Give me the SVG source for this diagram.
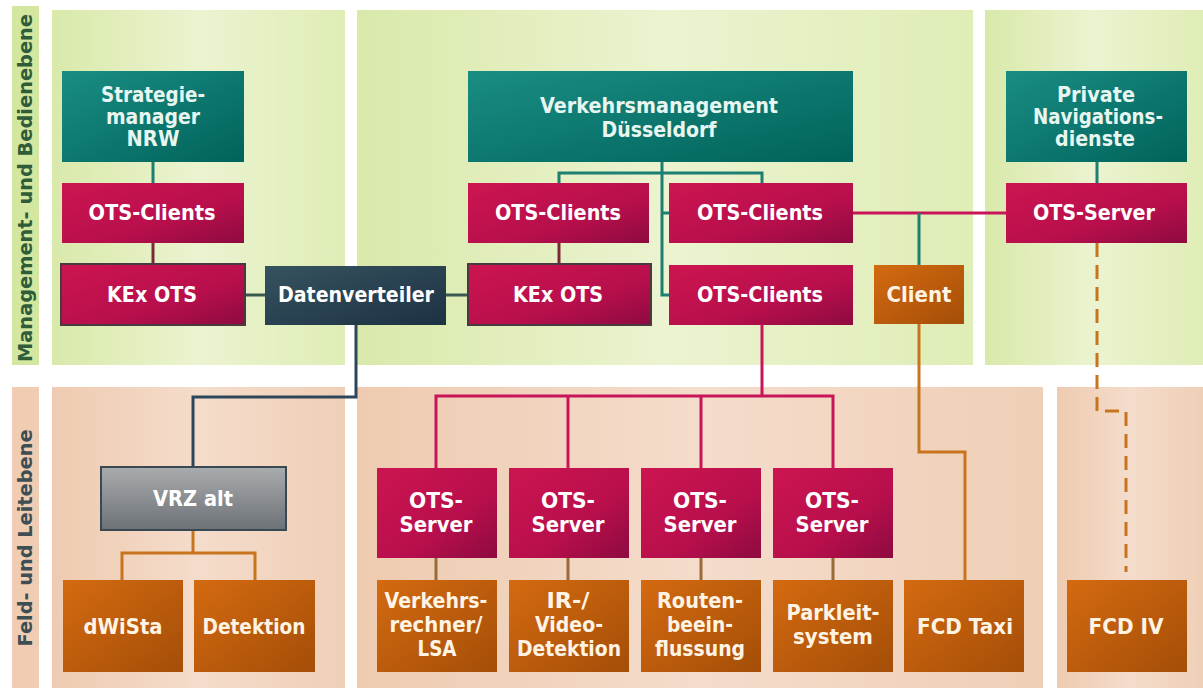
<svg xmlns="http://www.w3.org/2000/svg" width="1203" height="691" viewBox="0 0 1203 691">
<defs>
<linearGradient id="gTeal" x1="0" y1="0" x2="1" y2="1"><stop offset="0" stop-color="#1a8d83"/><stop offset="1" stop-color="#00635b"/></linearGradient>
<linearGradient id="gMag" x1="0" y1="0" x2="1" y2="1"><stop offset="0" stop-color="#cc1550"/><stop offset="0.6" stop-color="#b80f4c"/><stop offset="1" stop-color="#8e0a40"/></linearGradient>
<linearGradient id="gOr" x1="0" y1="0" x2="1" y2="1"><stop offset="0" stop-color="#d46a10"/><stop offset="1" stop-color="#a44e08"/></linearGradient>
<linearGradient id="gSlate" x1="0" y1="0" x2="1" y2="1"><stop offset="0" stop-color="#36525f"/><stop offset="1" stop-color="#1d3243"/></linearGradient>
<linearGradient id="gGray" x1="0" y1="0" x2="0" y2="1"><stop offset="0" stop-color="#a9acae"/><stop offset="1" stop-color="#6c7176"/></linearGradient>
<linearGradient id="gTop" x1="0" y1="0" x2="1" y2="0"><stop offset="0" stop-color="#d9e9aa"/><stop offset="0.5" stop-color="#ebf3d0"/><stop offset="1" stop-color="#dfedb6"/></linearGradient>
<linearGradient id="gBot" x1="0" y1="0" x2="1" y2="0"><stop offset="0" stop-color="#eecbb0"/><stop offset="0.5" stop-color="#f4dccb"/><stop offset="1" stop-color="#efcfb6"/></linearGradient>
</defs>
<style>
.t{font-family:"DejaVu Sans","Liberation Sans",sans-serif;font-weight:bold;font-size:21px;text-anchor:middle;fill:#ffffff}
.tt{fill:#e8f6f1}
.to{fill:#fff4e4}
.lbl{font-family:"DejaVu Sans","Liberation Sans",sans-serif;font-weight:bold;font-size:19px;text-anchor:middle}
.teal{fill:url(#gTeal)}
.mag{fill:url(#gMag)}
.or{fill:url(#gOr)}
.c{fill:none;stroke-width:3}
.cT{stroke:#1d7f72}
.cR{stroke:#7a2a36}
.cG{stroke:#3a5a50}
.cS{stroke:#2d4659}
.cM{stroke:#c8155a}
.cO{stroke:#c8741e}
.cB{stroke:#9a6a3a}
</style>
<rect width="1203" height="691" fill="#ffffff"/>
<g id="panels">
<rect x="12" y="6" width="27" height="359" fill="#d4e7a0"/>
<rect x="52" y="10" width="293" height="355" fill="url(#gTop)"/>
<rect x="357" y="10" width="616" height="355" fill="url(#gTop)"/>
<rect x="985" y="10" width="218" height="355" fill="url(#gTop)"/>
<rect x="12" y="387" width="27" height="301" fill="#f0cdb2"/>
<rect x="52" y="387" width="293" height="301" fill="url(#gBot)"/>
<rect x="357" y="387" width="686" height="301" fill="url(#gBot)"/>
<rect x="1057" y="387" width="146" height="301" fill="url(#gBot)"/>
<text class="lbl" transform="translate(32,188) rotate(-90)" fill="#2f5d3a" textLength="348" lengthAdjust="spacingAndGlyphs">Management- und Bedienebene</text>
<text class="lbl" transform="translate(32,538) rotate(-90)" fill="#3d4f55" textLength="217" lengthAdjust="spacingAndGlyphs">Feld- und Leitebene</text>
</g>
<g id="connectors">
<path class="c cT" d="M153,162V183"/>
<path class="c cR" d="M153,243V264"/>
<path class="c cG" d="M245,295H265"/>
<path class="c cG" d="M446,295H468"/>
<path class="c cT" d="M662,162V295H669"/>
<path class="c cT" d="M559,183V173H762V183"/>
<path class="c cT" d="M662,213H669"/>
<path class="c cR" d="M559,243V264"/>
<path class="c cT" d="M1097,162V183"/>
<path class="c cM" d="M853,213H1006"/>
<path class="c cT" d="M919,213V265"/>
<path class="c cS" d="M356,325V397H193V467"/>
<path class="c cM" d="M762,325V396"/>
<path class="c cM" d="M436,468V396H833V468"/>
<path class="c cM" d="M568,396V468"/>
<path class="c cM" d="M701,396V468"/>
<path class="c cO" d="M193,530V553"/>
<path class="c cO" d="M122,580V553H255V580"/>
<path class="c cB" d="M436,558V580M568,558V580M701,558V580M833,558V580"/>
<path class="c cO" d="M919,324V452H965V580"/>
<path class="c cO" d="M1097,243V411H1126V572" stroke-dasharray="14 8"/>
</g>
<g id="strategiemanager">
<rect class="teal" x="62" y="71" width="182" height="91"/>
<text class="t tt" x="153" y="102" textLength="104" lengthAdjust="spacingAndGlyphs">Strategie-</text>
<text class="t tt" x="153" y="124" textLength="94" lengthAdjust="spacingAndGlyphs">manager</text>
<text class="t tt" x="153" y="146" textLength="53" lengthAdjust="spacingAndGlyphs">NRW</text>
</g>
<g id="ots-clients-left">
<rect class="mag" x="62" y="183" width="182" height="60"/>
<text class="t" x="152" y="220" textLength="127" lengthAdjust="spacingAndGlyphs">OTS-Clients</text>
</g>
<g id="kex-ots-left">
<rect class="mag" x="61" y="264" width="184" height="61" stroke="#4a3a40" stroke-width="2"/>
<text class="t" x="152" y="302" textLength="90" lengthAdjust="spacingAndGlyphs">KEx OTS</text>
</g>
<g id="datenverteiler">
<rect x="265" y="266" width="181" height="59" fill="url(#gSlate)"/>
<text class="t" x="356" y="302" textLength="156" lengthAdjust="spacingAndGlyphs">Datenverteiler</text>
</g>
<g id="verkehrsmanagement">
<rect class="teal" x="468" y="71" width="385" height="91"/>
<text class="t tt" x="659" y="113" textLength="238" lengthAdjust="spacingAndGlyphs">Verkehrsmanagement</text>
<text class="t tt" x="659" y="137" textLength="115" lengthAdjust="spacingAndGlyphs">Düsseldorf</text>
</g>
<g id="ots-clients-c1">
<rect class="mag" x="468" y="183" width="181" height="60"/>
<text class="t" x="558" y="220" textLength="126" lengthAdjust="spacingAndGlyphs">OTS-Clients</text>
</g>
<g id="kex-ots-center">
<rect class="mag" x="468" y="264" width="183" height="61" stroke="#4a3a40" stroke-width="2"/>
<text class="t" x="558" y="302" textLength="90" lengthAdjust="spacingAndGlyphs">KEx OTS</text>
</g>
<g id="ots-clients-c2">
<rect class="mag" x="669" y="183" width="184" height="60"/>
<text class="t" x="760" y="220" textLength="126" lengthAdjust="spacingAndGlyphs">OTS-Clients</text>
</g>
<g id="ots-clients-c3">
<rect class="mag" x="669" y="265" width="184" height="60"/>
<text class="t" x="760" y="302" textLength="126" lengthAdjust="spacingAndGlyphs">OTS-Clients</text>
</g>
<g id="client">
<rect class="or" x="874" y="265" width="90" height="59"/>
<text class="t to" x="919" y="302" textLength="65" lengthAdjust="spacingAndGlyphs">Client</text>
</g>
<g id="private-navigationsdienste">
<rect class="teal" x="1006" y="71" width="181" height="91"/>
<text class="t tt" x="1096" y="102" textLength="78" lengthAdjust="spacingAndGlyphs">Private</text>
<text class="t tt" x="1098" y="124" textLength="130" lengthAdjust="spacingAndGlyphs">Navigations-</text>
<text class="t tt" x="1095" y="146" textLength="80" lengthAdjust="spacingAndGlyphs">dienste</text>
</g>
<g id="ots-server-right">
<rect class="mag" x="1006" y="183" width="181" height="60"/>
<text class="t" x="1094" y="220" textLength="122" lengthAdjust="spacingAndGlyphs">OTS-Server</text>
</g>
<g id="vrz-alt">
<rect x="101" y="467" width="185" height="63" fill="url(#gGray)" stroke="#3a4852" stroke-width="2"/>
<text class="t" x="193" y="506" fill="#f2f2f2" textLength="80" lengthAdjust="spacingAndGlyphs">VRZ alt</text>
</g>
<g id="dwista">
<rect class="or" x="63" y="580" width="120" height="92"/>
<text class="t to" x="123" y="634" textLength="79" lengthAdjust="spacingAndGlyphs">dWiSta</text>
</g>
<g id="detektion">
<rect class="or" x="194" y="580" width="121" height="92"/>
<text class="t to" x="254" y="634" textLength="103" lengthAdjust="spacingAndGlyphs">Detektion</text>
</g>
<g id="ots-server-1">
<rect class="mag" x="377" y="468" width="120" height="90"/>
<text class="t" x="436" y="508" textLength="54" lengthAdjust="spacingAndGlyphs">OTS-</text>
<text class="t" x="436" y="532" textLength="73" lengthAdjust="spacingAndGlyphs">Server</text>
</g>
<g id="ots-server-2">
<rect class="mag" x="509" y="468" width="120" height="90"/>
<text class="t" x="568" y="508" textLength="54" lengthAdjust="spacingAndGlyphs">OTS-</text>
<text class="t" x="568" y="532" textLength="73" lengthAdjust="spacingAndGlyphs">Server</text>
</g>
<g id="ots-server-3">
<rect class="mag" x="641" y="468" width="120" height="90"/>
<text class="t" x="700" y="508" textLength="54" lengthAdjust="spacingAndGlyphs">OTS-</text>
<text class="t" x="700" y="532" textLength="73" lengthAdjust="spacingAndGlyphs">Server</text>
</g>
<g id="ots-server-4">
<rect class="mag" x="773" y="468" width="120" height="90"/>
<text class="t" x="832" y="508" textLength="54" lengthAdjust="spacingAndGlyphs">OTS-</text>
<text class="t" x="832" y="532" textLength="73" lengthAdjust="spacingAndGlyphs">Server</text>
</g>
<g id="verkehrsrechner">
<rect class="or" x="377" y="580" width="120" height="92"/>
<text class="t to" x="436" y="608" textLength="103" lengthAdjust="spacingAndGlyphs">Verkehrs-</text>
<text class="t to" x="436" y="632" textLength="93" lengthAdjust="spacingAndGlyphs">rechner/</text>
<text class="t to" x="437" y="656" textLength="39" lengthAdjust="spacingAndGlyphs">LSA</text>
</g>
<g id="video-detektion">
<rect class="or" x="509" y="580" width="120" height="92"/>
<text class="t to" x="568" y="608" textLength="43" lengthAdjust="spacingAndGlyphs">IR-/</text>
<text class="t to" x="569" y="632" textLength="68" lengthAdjust="spacingAndGlyphs">Video-</text>
<text class="t to" x="569" y="656" textLength="104" lengthAdjust="spacingAndGlyphs">Detektion</text>
</g>
<g id="routenbeeinflussung">
<rect class="or" x="641" y="580" width="120" height="92"/>
<text class="t to" x="700" y="608" textLength="86" lengthAdjust="spacingAndGlyphs">Routen-</text>
<text class="t to" x="700" y="632" textLength="66" lengthAdjust="spacingAndGlyphs">beein-</text>
<text class="t to" x="700" y="656" textLength="90" lengthAdjust="spacingAndGlyphs">flussung</text>
</g>
<g id="parkleitsystem">
<rect class="or" x="773" y="580" width="120" height="92"/>
<text class="t to" x="833" y="620" textLength="93" lengthAdjust="spacingAndGlyphs">Parkleit-</text>
<text class="t to" x="833" y="644" textLength="80" lengthAdjust="spacingAndGlyphs">system</text>
</g>
<g id="fcd-taxi">
<rect class="or" x="904" y="580" width="120" height="92"/>
<text class="t to" x="965" y="634" textLength="96" lengthAdjust="spacingAndGlyphs">FCD Taxi</text>
</g>
<g id="fcd-iv">
<rect class="or" x="1067" y="580" width="120" height="92"/>
<text class="t to" x="1126" y="634" textLength="75" lengthAdjust="spacingAndGlyphs">FCD IV</text>
</g>
</svg>
